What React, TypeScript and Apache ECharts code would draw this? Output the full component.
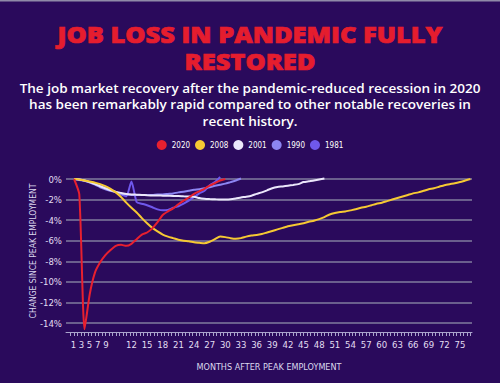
import React, { useEffect, useRef } from "react";
import * as echarts from "echarts";

// ---- data ----
const seriesNames = ["2020", "2008", "2001", "1990", "1981"];
const seriesColors = ["#e8202f", "#f6c933", "#ebe7fb", "#8d85f2", "#6f58ec"];

const v2020 = [0, -1.5, -14.6, -11.2, -9.1, -8.1, -7.4, -6.9, -6.5, -6.4, -6.5, -6.3, -5.85, -5.4, -5.2, -4.8, -4.2, -3.5, -3.15, -2.85, -2.45, -2.1, -1.8, -1.45, -1.2, -0.95, -0.65, -0.4, -0.15, 0];
const v2008 = [0, -0.05, -0.15, -0.25, -0.35, -0.5, -0.7, -0.95, -1.3, -1.75, -2.3, -2.8, -3.25, -3.8, -4.3, -4.75, -5.1, -5.4, -5.6, -5.75, -5.9, -6.0, -6.05, -6.15, -6.2, -6.25, -6.1, -5.85, -5.6, -5.65, -5.75, -5.8, -5.75, -5.6, -5.5, -5.45, -5.35, -5.2, -5.05, -4.9, -4.75, -4.6, -4.5, -4.4, -4.3, -4.15, -4.05, -3.9, -3.7, -3.45, -3.3, -3.2, -3.15, -3.05, -2.95, -2.8, -2.7, -2.55, -2.4, -2.3, -2.15, -2.0, -1.85, -1.7, -1.55, -1.4, -1.3, -1.15, -1.0, -0.9, -0.75, -0.6, -0.5, -0.42, -0.3, -0.15, 0];
const v2001 = [0, -0.05, -0.15, -0.3, -0.5, -0.7, -0.9, -1.1, -1.25, -1.35, -1.45, -1.5, -1.52, -1.55, -1.58, -1.6, -1.6, -1.62, -1.63, -1.65, -1.65, -1.68, -1.7, -1.72, -1.85, -1.92, -1.95, -1.97, -2.0, -2.0, -1.98, -1.9, -1.8, -1.72, -1.62, -1.45, -1.3, -1.1, -0.9, -0.78, -0.72, -0.65, -0.58, -0.5, -0.3, -0.22, -0.15, -0.05, 0.05];
const v1990 = [0, -0.05, -0.15, -0.35, -0.55, -0.8, -1.0, -1.15, -1.3, -1.45, -1.5, -1.55, -1.55, -1.55, -1.55, -1.55, -1.5, -1.5, -1.45, -1.4, -1.3, -1.25, -1.15, -1.05, -1.0, -0.9, -0.8, -0.65, -0.55, -0.45, -0.3, -0.15, 0.05];
const v1981 = [0, -0.1, -0.2, -0.3, -0.45, -0.6, -0.85, -1.05, -1.25, -1.5, -1.7, -0.25, -2.25, -2.4, -2.55, -2.75, -2.95, -3.05, -3.0, -2.8, -2.65, -2.4, -2.1, -1.75, -1.4, -1.15, -0.6, -0.3, 0.2];
const seriesValues = [v2020, v2008, v2001, v1990, v1981];

const xTickLabels = ["1", "3", "5", "7", "9", "12", "15", "18", "21", "24", "27", "30", "33", "36", "39", "42", "45", "48", "51", "54", "57", "60", "63", "66", "69", "72", "75"];
// where each label sits on the month scale (the first labels are squeezed in the original)
const xTickLabelAt = [0.9, 2.4, 3.95, 5.55, 7.1, 12, 15, 18, 21, 24, 27, 30, 33, 36, 39, 42, 45, 48, 51, 54, 57, 60, 63, 66, 69, 72, 75];

const titleLines = ["JOB LOSS IN PANDEMIC FULLY", "RESTORED"];
const subtitleLines = [
  "The job market recovery after the pandemic-reduced recession in 2020",
  "has been remarkably rapid compared to other notable recoveries in",
  "recent history.",
];

const NARROW = "'DejaVu Sans Condensed', 'Liberation Sans Narrow', sans-serif";

export default function App() {
  const ref = useRef<HTMLDivElement>(null);

  useEffect(() => {
    document.body.style.margin = "0";
    if (!ref.current) return;
    const chart = echarts.init(ref.current, null, { renderer: "svg" });

    const minorTicks: number[] = [];
    for (let i = 0; i <= 115; i++) minorTicks.push(0.35 + i * 0.6665);

    const series = seriesNames.map((name, i) => ({
      name,
      type: "line",
      data: seriesValues[i].map((v, k) => [k + 1, v]),
      symbol: "none",
      smooth: 0.2,
      clip: false,
      lineStyle: { color: seriesColors[i], width: 2 },
      itemStyle: { color: seriesColors[i] },
      z: 10 - i,
    }));
    const ordered = [series[4], series[3], series[2], series[1], series[0]];

    const titleStyle = {
      fill: "#e51d2e",
      stroke: "#e51d2e",
      lineWidth: 0.7,
      font: "800 22.5px 'Open Sans', sans-serif",
      textAlign: "center",
      textVerticalAlign: "middle",
    };
    const subStyle = {
      fill: "#ffffff",
      font: "600 13px 'Open Sans', sans-serif",
      textAlign: "center",
      textVerticalAlign: "middle",
    };

    chart.setOption({
      animation: false,
      backgroundColor: "#2a0a5c",
      graphic: [
        { type: "rect", shape: { x: 0, y: 0, width: 500, height: 1.5 }, style: { fill: "#8f8aa8" } },
        { type: "text", x: 250, y: 34, scaleX: 1.13, style: { ...titleStyle, text: titleLines[0] } },
        { type: "text", x: 250, y: 61.5, scaleX: 1.13, style: { ...titleStyle, text: titleLines[1] } },
        ...subtitleLines.map((t, i) => ({
          type: "text",
          x: 250,
          y: 88 + i * 16.5,
          scaleX: 1.04,
          style: { ...subStyle, text: t },
        })),
      ],
      legend: {
        data: seriesNames,
        top: 135,
        left: "center",
        icon: "circle",
        itemWidth: 10,
        itemHeight: 10,
        itemGap: 5,
        textStyle: { color: "#ffffff", fontSize: 8, fontFamily: NARROW },
      },
      grid: { left: 66, right: 28, top: 179, bottom: 60, containLabel: false },
      xAxis: {
        type: "value",
        min: -0.55,
        max: 77.3,
        offset: 9,
        name: "MONTHS AFTER PEAK EMPLOYMENT",
        nameLocation: "middle",
        nameGap: 30,
        nameMoveOverlap: false,
        nameTextStyle: { color: "#dcd8ee", fontSize: 9, fontFamily: NARROW },
        axisLine: { show: true, onZero: false, lineStyle: { color: "#aaa4cc", width: 1 } },
        axisTick: { show: true, length: 4, customValues: minorTicks, lineStyle: { color: "#aaa4cc" } },
        axisLabel: {
          customValues: xTickLabelAt,
          formatter: (v: number) => {
            const i = xTickLabelAt.indexOf(v);
            return i >= 0 ? xTickLabels[i] : "";
          },
          color: "#e2def2",
          fontSize: 9.5,
          fontFamily: NARROW,
          margin: 7,
        },
        splitLine: { show: false },
      },
      yAxis: {
        type: "value",
        min: -14,
        max: 0,
        interval: 2,
        name: "CHANGE SINCE PEAK EMPLOYMENT",
        nameLocation: "middle",
        nameRotate: 90,
        nameGap: 29,
        nameMoveOverlap: false,
        nameTextStyle: { color: "#dcd8ee", fontSize: 8.5, fontFamily: NARROW },
        axisLine: { show: false },
        axisTick: { show: false },
        axisLabel: { formatter: "{value}%", color: "#e2def2", fontSize: 9.5, fontFamily: NARROW, margin: 4 },
        splitLine: { show: true, lineStyle: { color: "#807c9e", width: 1.5 } },
      },
      series: ordered,
    });

    return () => chart.dispose();
  }, []);

  return <div ref={ref} style={{ width: 500, height: 383 }} />;
}
